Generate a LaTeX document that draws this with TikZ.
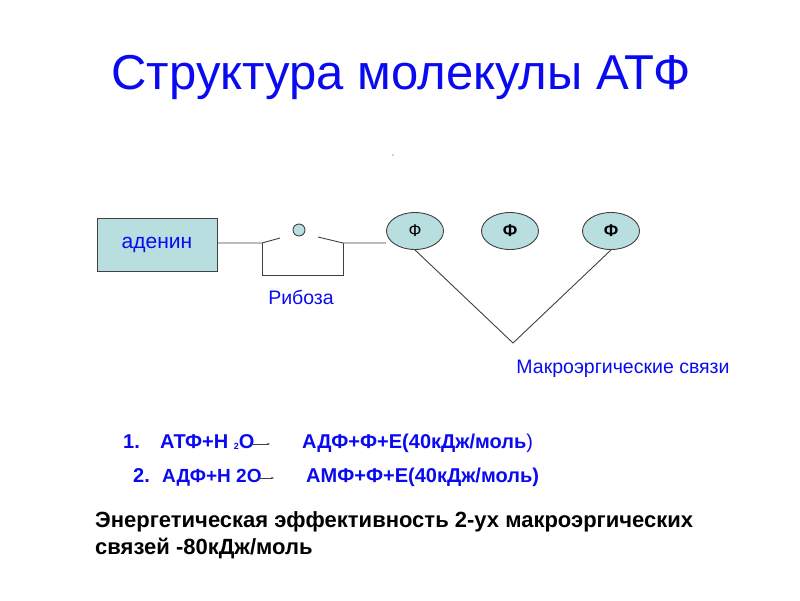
\documentclass[tikz,border=0pt]{standalone}
\usepackage{fontspec}
\setmainfont{Liberation Sans}
\definecolor{atpblue}{HTML}{0A0AF0}
\definecolor{atpteal}{HTML}{B9DEE0}
\definecolor{atpgray}{HTML}{404040}
\usetikzlibrary{arrows.meta, positioning, shapes.geometric}

\begin{document}
\begin{tikzpicture}[x=1pt, y=-1pt,
        base/.style={draw=atpgray, line width=0.9pt, fill=atpteal},
        phos/.style={base, ellipse, minimum width=57pt, minimum height=37pt,
                     inner sep=0pt, font=\fontsize{17}{19}\selectfont},
        caption/.style={text=atpblue, font=\fontsize{19.5}{22}\selectfont},
        eq/.style={text=atpblue, anchor=base west, inner sep=0pt,
                   font=\fontsize{20}{22}\selectfont\bfseries},
        bond/.style={atpgray, line width=0.9pt}
      ]
        \useasboundingbox (0,0) rectangle (800,600);
        % Title
        \node[text=atpblue, font=\fontsize{49}{54}\selectfont] (title) at (401,77)
          {Структура молекулы АТФ};
        \node[circle, fill=atpgray, inner sep=0.5pt] (dot) at (393,155) {};
        % Adenine
        \node[base, minimum width=120pt, minimum height=53pt, inner sep=0pt,
              text=atpblue, font=\fontsize{21}{23}\selectfont] (aden) at (157,244.5) {аденин};
        % Ribose
        \coordinate (r1) at (262,243);
        \coordinate (r2) at (280,238);
        \coordinate (r3) at (318,237);
        \coordinate (r4) at (343,243);
        \coordinate (r5) at (262,275);
        \coordinate (r6) at (343,275);
        \node[base, circle, minimum size=12pt, inner sep=0pt] (rib) at (299,230) {};
        \node[caption] (ribname) at (301,297) {Рибоза};
        % Phosphates
        \node[phos] (p1) at (415,231) {Ф};
        \node[phos, font=\fontsize{17}{19}\selectfont\bfseries] (p2) at (510,231) {Ф};
        \node[phos, font=\fontsize{17}{19}\selectfont\bfseries] (p3) at (611,231) {Ф};
        \coordinate (v) at (513,343);
        \node[caption] (macro) at (623,369) {Макроэргические связи};
        % Bonds
        \draw[bond] (aden.east |- r1) -- (r1) -- (r2);
        \draw[bond] (r3) -- (r4) -- (r4 -| p1.west);
        \draw[bond] (r1) -- (r5) -- (r6) -- (r4);
        \draw[bond] (p1.south) -- (v) -- (p3.south);
        % Reactions
        \node[eq] (n1) at (123,448) {1.};
        \node[eq] (e1a) at (160,448)
          {АТФ+Н \raisebox{-1pt}{\fontsize{9}{10}\selectfont 2}O};
        \node[eq] (e1b) at (302,448) {АДФ+Ф+Е(40кДж/моль\textmd{)}};
        \node[eq] (n2) at (133,482) {2.};
        \node[eq, font=\fontsize{19}{22}\selectfont\bfseries] (e2a) at (162,482) {АДФ+Н 2O};
        \node[eq] (e2b) at (306,482) {АМФ+Ф+Е(40кДж/моль)};
        \coordinate (a1) at (270,444);
        \coordinate (a2) at (274,478);
        \draw[atpgray, -{Stealth[length=3pt]}, line width=0.5pt]
          ([xshift=-4pt, yshift=4pt]e1a.base east) -- (a1);
        \draw[atpgray, -{Stealth[length=3pt]}, line width=0.5pt]
          ([xshift=-4pt, yshift=4pt]e2a.base east) -- (a2);
        % Energy note
        \node[anchor=west, align=left, inner sep=0pt,
              font=\fontsize{22}{27}\selectfont\bfseries] (note) at (95,535)
          {Энергетическая эффективность 2-ух макроэргических\\связей -80кДж/моль};
      \end{tikzpicture}
\end{document}
